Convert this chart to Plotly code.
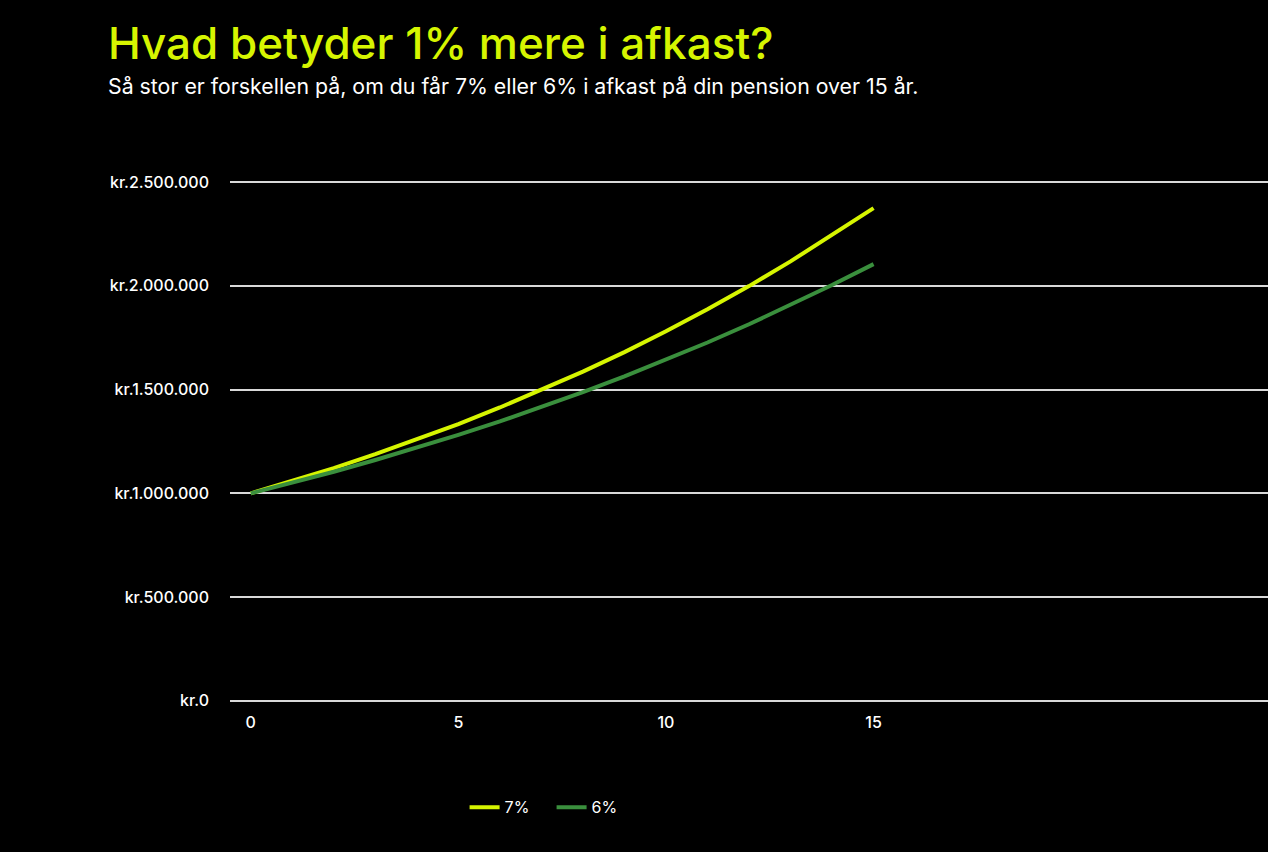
import plotly.graph_objects as go

# år og pensionsværdi (kr.)
years = list(range(16))
afkast_7 = [1000000, 1059000, 1122000, 1189000, 1260000, 1334000, 1414000, 1498000,
            1587000, 1681000, 1781000, 1887000, 1999000, 2118000, 2244000, 2375000]
afkast_6 = [1000000, 1051000, 1104000, 1161000, 1220000, 1282000, 1347000, 1416000,
            1488000, 1564000, 1643000, 1727000, 1815000, 1907000, 2004000, 2105000]

y_ticks = [0, 500000, 1000000, 1500000, 2000000, 2500000]
y_labels = ["kr.0", "kr.500.000", "kr.1.000.000", "kr.1.500.000", "kr.2.000.000", "kr.2.500.000"]
x_ticks = [0, 5, 10, 15]

LIME = "#d6f500"
GREEN = "#3a8f3d"
FONT = "Inter"

fig = go.Figure()
fig.add_trace(go.Scatter(x=years, y=afkast_7, name="7%", mode="lines",
                         line=dict(color=LIME, width=4)))
fig.add_trace(go.Scatter(x=years, y=afkast_6, name="6%", mode="lines",
                         line=dict(color=GREEN, width=4)))

fig.update_layout(
    width=1268, height=852,
    paper_bgcolor="black", plot_bgcolor="black",
    margin=dict(l=230, r=0, t=178, b=147),
    font=dict(family=FONT, color="white", size=16),
    showlegend=True,
    legend=dict(orientation="h", x=0.226, xanchor="left", y=-0.194, yanchor="middle",
                entrywidth=42, font=dict(size=16, color="white"), bgcolor="rgba(0,0,0,0)"),
    annotations=[
        dict(text="Hvad betyder 1% mere i afkast?", xref="paper", yref="paper",
             x=-0.1195, y=1.256, xanchor="left", yanchor="middle", showarrow=False,
             font=dict(family=FONT, size=44, color=LIME, weight=500)),
        dict(text="Så stor er forskellen på, om du får 7% eller 6% i afkast på din pension over 15 år.",
             xref="paper", yref="paper", x=-0.1195, y=1.175, xanchor="left", yanchor="middle",
             showarrow=False, font=dict(family=FONT, size=21.3, color="white")),
    ],
)

fig.update_xaxes(range=[-0.5, 24.5], tickvals=x_ticks, showgrid=False, zeroline=False,
                 showline=False, ticklabelstandoff=6, tickfont=dict(size=16, color="white", weight=500))
fig.update_yaxes(range=[-20000, 2520000], tickvals=y_ticks, ticktext=y_labels,
                 showgrid=True, gridcolor="#d9d9d9", gridwidth=1.5, zeroline=False,
                 showline=False, ticklabelstandoff=20, tickfont=dict(size=16, color="white", weight=500))

fig.write_html("out.html", config={"displayModeBar": False},
               post_script="document.body.style.margin='0';")
